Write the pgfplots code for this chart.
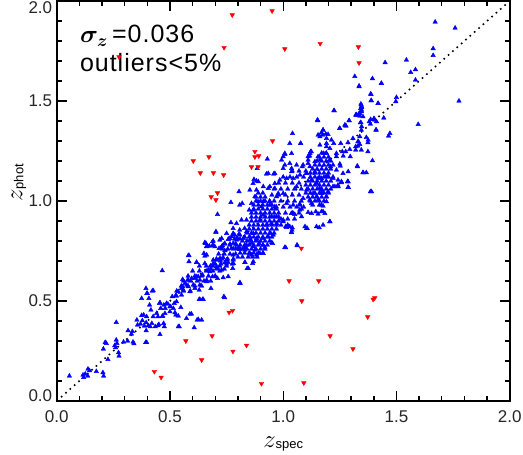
\documentclass[border=0pt]{standalone}
\usepackage{fontspec}
\setmainfont{Liberation Sans}
\newfontfamily\widefont[LetterSpace=4]{Liberation Sans}
\usepackage{bm}
\usepackage{pgfplots}
\pgfplotsset{compat=1.18}
\begin{document}
\begin{tikzpicture}
\begin{axis}[
  at={(0,0)}, anchor=south west,
  scale only axis, width=453pt, height=400pt,
  xmin=0, xmax=2, ymin=0, ymax=2,
  xtick={0,0.5,1,1.5,2}, ytick={0,0.5,1,1.5,2},
  xticklabels={0.0,0.5,1.0,1.5,2.0},
  yticklabels={\raisebox{5pt}[\height][\depth]{0.0},0.5,1.0,1.5,\raisebox{-6.5pt}[\height][\depth]{2.0}},
  minor tick num=4,
  tick align=inside,
  major tick length=10pt, minor tick length=5pt,
  axis line style={line width=2pt},
  every tick/.style={black, line width=1.4pt},
  tick label style={font=\fontsize{17}{17}\selectfont, text=black!85},
  xticklabel style={yshift=-6pt},
  yticklabel style={xshift=-1pt},
  xlabel={\fontsize{26}{26}\selectfont$z$\fontsize{13}{13}\selectfont\raisebox{-1pt}{spec}},
  ylabel={\fontsize{24}{24}\selectfont$z$\fontsize{13}{13}\selectfont\raisebox{-1pt}{phot}},
  xlabel style={at={(axis description cs:0.5,-0.1175)}, anchor=base, inner sep=0pt},
  ylabel style={at={(axis description cs:-0.076,0.545)}, anchor=base, inner sep=0pt},
  clip=true,
]
\addplot[black, line width=1.6pt, dash pattern=on 1.6pt off 4.2pt] coordinates {(0,0) (2,2)};
% blue: individually read points
\addplot[only marks, mark=triangle*, mark size=2.6pt, color=blue, fill=blue] coordinates {
(0.056,0.125)(0.116,0.130)(0.126,0.135)(0.138,0.160)(0.137,0.125)(0.119,0.118)(0.145,0.152)(0.175,0.148)
(0.204,0.142)(0.207,0.125)(0.226,0.208)(0.219,0.288)(0.214,0.293)(0.206,0.260)(0.260,0.267)(0.266,0.288)
(0.273,0.242)(0.275,0.225)(0.256,0.277)(0.263,0.305)(0.263,0.393)(0.295,0.295)(0.313,0.300)(0.315,0.352)
(0.330,0.335)(0.334,0.348)(0.337,0.295)(0.341,0.287)(0.357,0.380)(0.354,0.405)(0.375,0.428)(0.393,0.293)
(0.387,0.375)(0.395,0.392)(0.398,0.538)(0.426,0.552)(0.410,0.480)(0.416,0.455)(0.404,0.377)(0.413,0.372)
(0.420,0.388)(0.435,0.372)(0.447,0.377)(0.456,0.333)(0.451,0.383)(0.447,0.422)(0.454,0.488)(0.472,0.388)
(0.475,0.372)(0.466,0.423)(0.459,0.463)(0.479,0.463)(0.491,0.485)(0.500,0.472)(0.510,0.522)(0.525,0.527)
(0.519,0.488)(0.526,0.430)(0.537,0.372)(0.384,0.430)(0.378,0.402)(0.370,0.385)(0.395,0.352)
(0.466,0.652)(0.584,0.728)(0.584,0.697)(0.617,0.693)(0.703,0.843)(0.656,0.788)(0.666,0.775)(0.688,0.777)
(0.688,0.797)(0.720,0.805)(0.732,0.777)(0.757,0.808)(0.772,0.822)(0.779,0.788)(0.772,0.763)(0.790,0.763)
(0.798,0.813)(0.742,0.752)(0.735,0.717)(0.742,0.692)(0.757,0.693)(0.723,0.700)(0.706,0.705)(0.691,0.688)
(0.662,0.730)(0.654,0.725)(0.679,0.675)(0.669,0.655)(0.644,0.630)(0.625,0.622)(0.632,0.605)(0.610,0.613)
(0.596,0.613)(0.578,0.605)(0.566,0.588)(0.556,0.572)(0.581,0.572)(0.588,0.547)(0.610,0.563)(0.629,0.555)
(0.662,0.597)(0.688,0.622)(0.706,0.663)(0.728,0.655)(0.710,0.613)(0.735,0.617)(0.757,0.622)(0.681,0.563)
(0.632,0.508)(0.644,0.508)(0.741,0.517)(0.809,0.588)(0.394,0.563)(0.422,0.550)(0.400,0.538)(0.375,0.513)
(0.407,0.513)(0.456,0.492)(0.473,0.480)(0.485,0.488)(0.503,0.472)(0.515,0.463)(0.529,0.497)(0.548,0.468)
(0.522,0.442)(0.559,0.555)(0.551,0.530)(0.529,0.525)(0.537,0.547)(0.500,0.447)(0.478,0.438)(0.441,0.438)
(0.426,0.422)(0.397,0.422)(0.595,0.435)(0.625,0.408)(0.573,0.413)(0.537,0.425)(0.468,0.425)
(0.779,0.838)(0.794,0.813)(0.809,0.830)(0.838,0.847)(0.868,0.838)(0.882,0.805)(0.860,0.788)(0.831,0.772)
(0.801,0.763)(0.765,0.780)(0.728,0.772)(0.691,0.780)(0.659,0.788)(0.674,0.775)(0.650,0.738)(0.581,0.727)
(0.618,0.693)(0.654,0.688)(0.691,0.705)(0.721,0.713)(0.750,0.705)(0.779,0.705)(0.831,0.693)(0.846,0.663)
(0.809,0.592)(0.738,0.522)(0.882,0.730)(0.868,0.697)(0.706,0.672)(0.676,0.647)(0.699,0.622)(0.662,0.605)
(0.632,0.580)(0.603,0.580)(0.574,0.580)(0.551,0.563)(0.556,0.608)(0.581,0.605)(0.618,0.622)(0.629,0.508)
(0.647,0.508)(0.607,0.367)(0.620,0.405)(0.640,0.405)(0.588,0.435)(0.541,0.372)(0.397,0.293)
(0.710,0.933)(0.769,0.993)(0.808,0.980)(0.819,0.988)(0.805,1.047)(0.853,1.055)(0.867,1.088)(0.882,1.100)
(0.926,1.135)(0.958,1.135)(0.941,1.072)(0.963,1.063)(0.978,1.038)(0.769,0.892)(0.703,0.847)(0.691,0.800)
(0.654,0.792)(0.661,0.772)(0.698,0.772)(0.717,0.763)(0.742,0.788)(0.764,0.813)(0.786,0.830)(0.808,0.855)
(0.830,0.863)(0.838,0.905)(0.850,0.955)(0.860,0.988)(0.875,1.022)(0.889,0.997)(0.904,0.972)(0.911,0.930)
(0.926,0.880)(0.945,0.838)(0.953,0.788)(0.911,0.780)(0.897,0.738)(0.875,0.755)(0.853,0.738)(0.830,0.763)
(0.808,0.758)(0.794,0.780)(0.779,0.730)(0.941,0.997)(0.963,0.972)(0.970,0.922)(0.948,0.888)(0.816,0.905)
(0.794,0.888)(0.779,0.863)(0.750,0.838)(0.728,0.813)(0.853,0.822)
(1.153,1.402)(1.041,1.338)(1.029,1.288)(1.077,1.288)(1.188,1.335)(1.174,1.330)(1.162,1.280)(1.121,1.247)
(1.110,1.222)(1.007,1.233)(1.000,1.222)(1.037,1.238)(0.930,1.210)(0.885,1.163)(0.871,1.108)(0.890,1.097)
(0.934,1.138)(0.963,1.138)(1.000,1.163)(1.029,1.188)(1.059,1.180)(1.084,1.172)(1.110,1.188)(1.140,1.197)
(1.154,1.222)(1.179,1.238)(1.191,1.272)(1.103,1.138)(1.074,1.130)(1.044,1.113)(1.015,1.113)(0.985,1.105)
(0.963,1.088)(0.934,1.063)(0.912,1.072)(0.882,1.055)(1.037,1.147)(1.125,1.105)(1.147,1.088)(1.169,1.113)
(1.191,1.122)(1.169,1.055)(1.191,1.022)(1.169,0.980)(1.144,0.947)(1.125,0.988)(1.088,1.013)(1.074,0.980)
(1.044,0.938)(1.000,0.905)(0.971,0.888)(1.029,0.872)(1.096,0.872)(0.941,0.980)(0.912,0.997)(0.971,1.022)
(1.000,1.038)(1.015,0.988)(0.949,0.922)(0.897,0.905)(0.868,0.955)(1.184,0.938)(1.147,0.872)(1.059,1.072)
(1.103,1.055)
(1.335,1.575)(1.433,1.588)(1.386,1.535)(1.389,1.502)(1.419,1.488)(1.345,1.480)(1.342,1.463)(1.224,1.452)
(1.335,1.438)(1.320,1.430)(1.352,1.422)(1.386,1.408)(1.404,1.405)(1.151,1.405)(1.291,1.402)(1.272,1.380)
(1.341,1.392)(1.385,1.385)(1.249,1.363)(1.345,1.355)(1.176,1.355)(1.169,1.342)(1.154,1.330)(1.191,1.313)
(1.213,1.305)(1.411,1.355)(1.367,1.318)(1.374,1.292)(1.308,1.313)(1.330,1.297)(1.330,1.275)(1.254,1.288)
(1.286,1.292)(1.345,1.255)(1.374,1.247)(1.320,1.255)(1.296,1.222)(1.261,1.247)(1.235,1.238)(1.394,1.202)
(1.327,1.175)(1.352,1.142)(1.367,1.142)(1.252,1.175)(1.264,1.138)(1.286,1.097)(1.385,1.047)(1.077,1.288)
(1.124,1.247)(1.117,1.225)(1.205,1.205)(1.220,1.180)(1.242,1.105)(1.220,1.072)(1.169,1.055)(1.191,1.122)
(1.671,1.895)(1.662,1.762)(1.662,1.728)(1.450,1.692)(1.544,1.705)(1.563,1.643)(1.584,1.657)(1.584,1.605)
(1.316,1.623)(1.394,1.612)(1.335,1.572)(1.434,1.588)(1.388,1.533)(1.388,1.502)(1.419,1.488)(1.500,1.518)
(1.497,1.497)(1.225,1.452)(1.343,1.485)(1.346,1.468)(1.346,1.447)(1.324,1.430)(1.338,1.425)(1.291,1.402)
(1.277,1.375)(1.250,1.363)(1.343,1.392)(1.380,1.397)(1.400,1.408)(1.444,1.415)(1.596,1.383)
(1.759,1.865)(1.776,1.500)(1.465,1.325)(1.471,1.338)(1.328,1.172)(1.353,1.142)(1.390,1.047)(1.284,1.097)
(1.288,1.068)(1.206,0.897)(1.106,0.863)(1.040,0.867)(1.015,0.868)(1.176,0.947)(1.191,0.997)(1.257,1.092)
(1.243,1.072)(1.073,0.955)(1.081,0.922)(1.125,0.938)(1.154,1.005)(1.169,1.038)(1.250,1.185)(1.265,1.225)
(1.276,1.247)(1.294,1.258)(1.320,1.272)(1.338,1.283)(1.332,1.297)(1.338,1.322)(1.346,1.372)(1.323,1.430)
(1.338,1.438)(1.346,1.455)(1.346,1.472)(1.375,1.305)(1.412,1.397)(1.409,1.355)(1.401,1.413)(1.276,1.377)
(1.223,1.288)(1.206,1.263)(1.191,1.288)(1.191,1.238)(1.162,1.322)(1.176,1.355)(1.198,1.333)(1.118,1.238)
(1.110,1.205)(1.007,1.238)(0.993,1.205)(1.007,1.180)(1.037,1.163)(1.088,1.180)(1.118,1.172)(1.103,1.138)
(1.140,1.147)(1.154,1.113)(1.198,1.122)(1.220,1.113)(1.235,1.155)(1.235,1.222)(1.209,1.172)(1.162,1.205)
(1.287,1.147)
(1.007,0.768)(1.061,0.780)(1.036,0.843)(1.039,0.855)(1.011,0.872)(1.103,0.863)(1.159,0.867)(1.176,0.880)
(1.206,0.897)(1.000,0.897)(1.169,0.947)(1.154,0.935)(1.110,0.943)(1.081,0.960)(1.051,0.933)(1.036,0.938)
(1.044,0.980)(1.073,0.985)(1.117,1.005)(1.147,1.022)(1.176,0.975)(1.198,1.047)(1.228,1.072)(1.242,1.080)
(1.257,1.097)(1.286,1.097)(1.286,1.068)(1.161,1.063)(1.132,1.038)
(0.809,0.588)(0.831,0.693)(0.841,0.663)(0.865,0.688)(0.860,0.730)(0.912,0.738)(0.919,0.768)(0.949,0.792)
(1.011,0.767)(1.062,0.777)(1.037,0.843)(0.777,0.663)(0.780,0.688)(0.809,0.763)(0.831,0.755)(0.838,0.780)
(0.868,0.772)(0.894,0.788)(0.912,0.813)(0.934,0.822)(0.956,0.830)(0.882,0.813)(0.853,0.805)(0.824,0.813)
(0.794,0.805)
};
% blue: dense core
\addplot[only marks, mark=triangle*, mark size=2.6pt, color=blue, fill=blue] coordinates {
(0.80,0.72)(0.82,0.72)(0.845,0.72)(0.865,0.72)(0.885,0.72)
(0.81,0.74)(0.83,0.74)(0.85,0.74)(0.87,0.74)(0.89,0.74)(0.91,0.74)
(0.80,0.76)(0.82,0.76)(0.84,0.76)(0.86,0.76)(0.88,0.76)(0.90,0.76)(0.92,0.76)
(0.81,0.78)(0.83,0.78)(0.85,0.78)(0.87,0.78)(0.89,0.78)(0.91,0.78)(0.93,0.78)
(0.82,0.80)(0.84,0.80)(0.86,0.80)(0.88,0.80)(0.90,0.80)(0.92,0.80)(0.94,0.80)
(0.83,0.82)(0.85,0.82)(0.87,0.82)(0.89,0.82)(0.91,0.82)(0.93,0.82)(0.95,0.82)
(0.84,0.84)(0.86,0.84)(0.88,0.84)(0.90,0.84)(0.92,0.84)(0.94,0.84)(0.96,0.84)
(0.85,0.86)(0.87,0.86)(0.89,0.86)(0.91,0.86)(0.93,0.86)(0.95,0.86)(0.97,0.86)
(0.85,0.88)(0.87,0.88)(0.89,0.88)(0.91,0.88)(0.93,0.88)(0.95,0.88)(0.97,0.88)
(0.86,0.90)(0.88,0.90)(0.90,0.90)(0.92,0.90)(0.94,0.90)(0.96,0.90)(0.98,0.90)
(0.86,0.92)(0.88,0.92)(0.90,0.92)(0.92,0.92)(0.94,0.92)(0.96,0.92)(0.98,0.92)
(0.86,0.94)(0.88,0.94)(0.90,0.94)(0.92,0.94)(0.94,0.94)(0.96,0.94)
(0.87,0.96)(0.89,0.96)(0.91,0.96)(0.93,0.96)(0.95,0.96)(0.97,0.96)
(0.87,0.98)(0.89,0.98)(0.91,0.98)(0.93,0.98)(0.95,0.98)
(0.88,1.00)(0.90,1.00)(0.92,1.00)(0.94,1.00)
(0.88,1.02)(0.90,1.02)(0.92,1.02)
(0.89,1.04)(0.91,1.04)
(1.13,0.98)(1.16,0.98)
(1.12,1.00)(1.14,1.00)(1.16,1.00)(1.18,1.00)
(1.11,1.02)(1.13,1.02)(1.15,1.02)(1.17,1.02)(1.19,1.02)
(1.10,1.04)(1.12,1.04)(1.14,1.04)(1.16,1.04)(1.18,1.04)(1.20,1.04)
(1.11,1.06)(1.13,1.06)(1.15,1.06)(1.17,1.06)(1.19,1.06)(1.21,1.06)
(1.10,1.08)(1.12,1.08)(1.14,1.08)(1.16,1.08)(1.18,1.08)(1.20,1.08)
(1.11,1.10)(1.13,1.10)(1.15,1.10)(1.17,1.10)(1.19,1.10)(1.21,1.10)
(1.12,1.12)(1.14,1.12)(1.16,1.12)(1.18,1.12)(1.20,1.12)(1.22,1.12)
(1.12,1.14)(1.14,1.14)(1.16,1.14)(1.18,1.14)(1.20,1.14)
(1.13,1.16)(1.15,1.16)(1.17,1.16)(1.19,1.16)(1.21,1.16)
(1.14,1.18)(1.16,1.18)(1.18,1.18)(1.20,1.18)
(1.15,1.20)(1.17,1.20)(1.19,1.20)(1.21,1.20)
(1.16,1.22)(1.18,1.22)(1.20,1.22)
(1.17,1.24)(1.19,1.24)
(0.99,0.88)(1.02,0.88)
(0.99,0.91)(1.02,0.91)(1.05,0.91)
(0.98,0.94)(1.01,0.94)(1.04,0.94)(1.07,0.94)
(0.97,0.97)(1.00,0.97)(1.03,0.97)(1.06,0.97)(1.09,0.97)
(0.96,1.00)(0.99,1.00)(1.02,1.00)(1.05,1.00)(1.08,1.00)
(0.95,1.03)(0.98,1.03)(1.01,1.03)(1.04,1.03)(1.07,1.03)
(0.96,1.06)(0.99,1.06)(1.02,1.06)(1.05,1.06)(1.08,1.06)
(0.98,1.09)(1.01,1.09)(1.04,1.09)(1.07,1.09)
(1.00,1.12)(1.03,1.12)(1.06,1.12)(1.09,1.12)
(1.04,1.15)(1.07,1.15)(1.10,1.15)
(0.68,0.66)(0.71,0.66)(0.74,0.66)
(0.70,0.685)(0.725,0.685)(0.75,0.685)(0.775,0.685)
(0.705,0.71)(0.73,0.71)(0.755,0.71)(0.78,0.71)
(0.715,0.735)(0.74,0.735)(0.765,0.735)(0.79,0.735)
(0.73,0.76)(0.755,0.76)(0.78,0.76)
(0.74,0.785)(0.765,0.785)(0.79,0.785)
(0.76,0.81)(0.785,0.81)(0.81,0.81)
(0.78,0.835)(0.805,0.835)
(0.53,0.55)(0.56,0.55)(0.59,0.55)
(0.55,0.575)(0.58,0.575)(0.61,0.575)(0.64,0.575)
(0.56,0.60)(0.59,0.60)(0.62,0.60)(0.65,0.60)(0.68,0.60)
(0.58,0.625)(0.61,0.625)(0.64,0.625)(0.67,0.625)(0.70,0.625)
(0.60,0.65)(0.63,0.65)(0.66,0.65)(0.69,0.65)(0.72,0.65)
(0.63,0.675)(0.66,0.675)(0.69,0.675)(0.72,0.675)(0.75,0.675)
};
% red outliers
\addplot[only marks, mark=triangle*, mark size=2.6pt, color=red, fill=red,
  every mark/.append style={rotate=180}] coordinates {
(0.775,1.930)(0.739,1.767)(0.275,1.720)(0.603,1.200)(0.672,1.220)(0.634,1.140)(0.692,1.140)(0.737,1.130)
(0.682,1.020)(0.710,1.040)(0.703,1.005)(0.875,1.247)(0.875,1.220)(0.892,1.225)(0.860,1.170)(0.889,1.170)
(0.951,1.950)(1.007,1.760)(1.163,1.787)(1.332,1.770)(1.335,1.690)(0.953,1.300)(0.640,0.205)(0.570,0.300)
(0.686,0.325)(0.761,0.443)(0.776,0.452)(0.778,0.248)(0.838,0.278)(0.431,0.147)(0.461,0.118)(1.080,0.763)
(1.026,0.600)(1.157,0.600)(1.082,0.500)(1.404,0.515)(1.397,0.508)(1.373,0.420)(1.207,0.325)(1.308,0.260)
(0.904,0.087)(1.091,0.090)
};
\node[anchor=base west, font=\fontsize{25}{25}\selectfont\widefont, inner sep=0pt] at (axis description cs:0.051,0.895) {$\bm{\sigma_z}$\,=0.036};
\node[anchor=base west, font=\fontsize{25}{25}\selectfont\widefont, inner sep=0pt] at (axis description cs:0.051,0.8225) {outliers<5\%};
\end{axis}
\pgfresetboundingbox
\path[use as bounding box] (-56.7pt,-54pt) rectangle (466.3pt,401pt);
\end{tikzpicture}
\end{document}
